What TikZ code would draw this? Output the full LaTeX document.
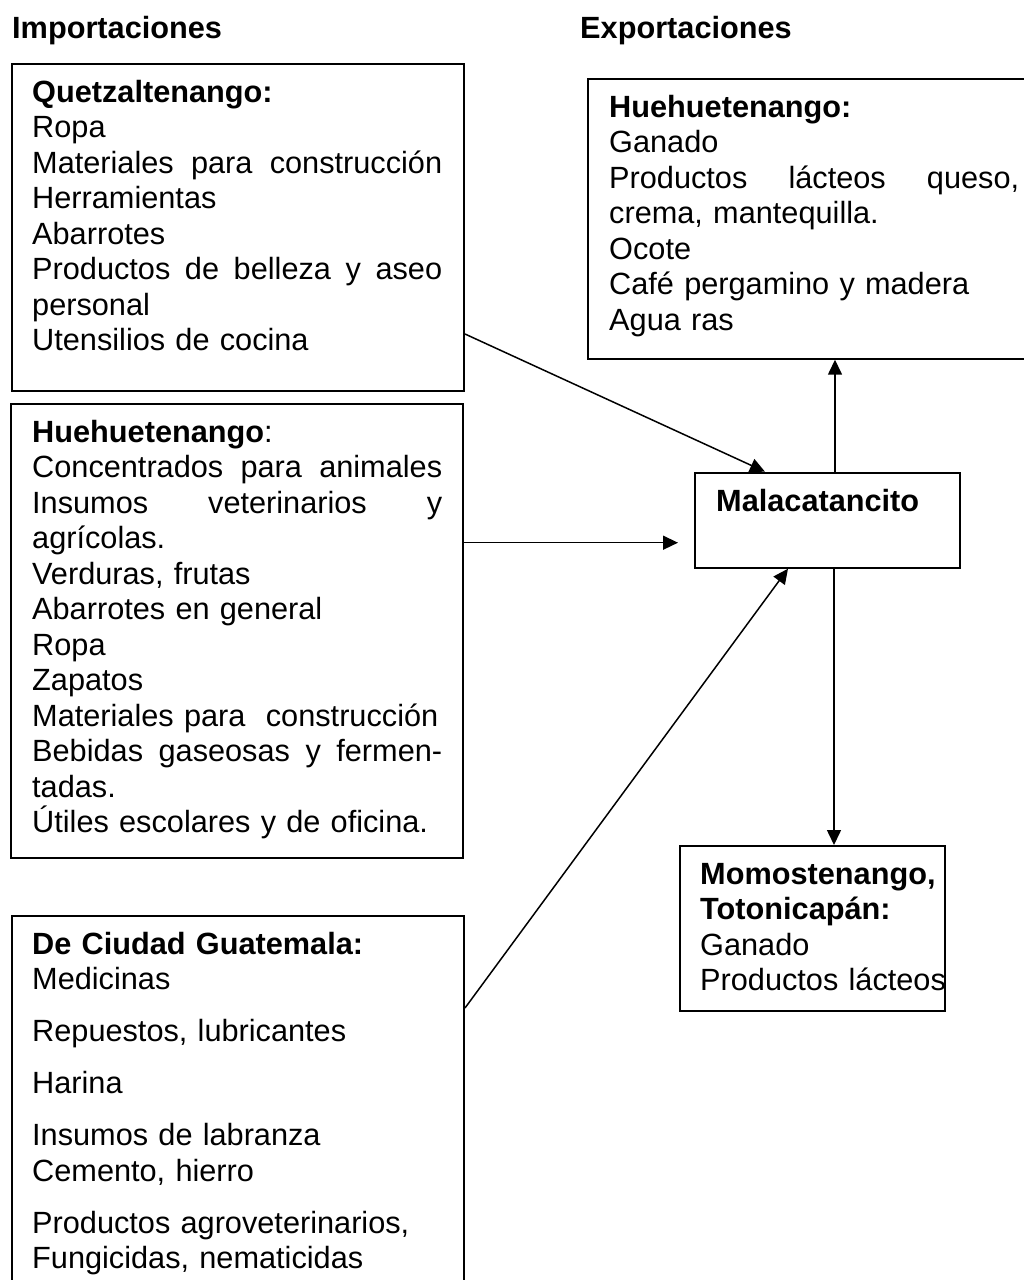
\documentclass[tikz,border=0pt]{standalone}
\usepackage{fontspec}
\setmainfont{Liberation Sans}
\usetikzlibrary{arrows.meta}
\newcommand{\jline}[1]{\makebox[\hsize][l]{#1}}

\begin{document}
\begin{tikzpicture}[x=1pt,y=-1pt,
  box/.style={draw,line width=2pt,anchor=north west,inner sep=0pt},
  txt/.style={anchor=base west,inner sep=0pt,text width=410pt,align=left,font=\fontsize{30.7}{35.5}\selectfont},
  lbl/.style={anchor=base west,inner sep=0pt,font=\fontsize{30.7}{35.5}\selectfont\bfseries},
  arr/.style={line width=1.5pt,-{Triangle[length=15pt,width=14pt]}}]

\useasboundingbox (0,0) rectangle (1024,1280);
\clip (0,0) rectangle (1024,1280);

\node[lbl] (imp) at (12,38) {Importaciones};
\node[lbl] (exp) at (580,38) {Exportaciones};

% importaciones
\node[box,minimum width=452pt,minimum height=327pt] (qz) at (11,63) {};
\node[txt] (qzt) at (32,102) {\textbf{Quetzaltenango:}\\ Ropa\\ \jline{Materiales\hfill para\hfill construcción}\\ Herramientas\\ Abarrotes\\ \jline{Productos\hfill de\hfill belleza\hfill y\hfill aseo}\\ personal\\ Utensilios de cocina};

\node[box,minimum width=452pt,minimum height=454pt] (hh) at (10,403) {};
\node[txt] (hht) at (32,442) {\textbf{Huehuetenango}:\\ \jline{Concentrados\hfill para\hfill animales}\\ \jline{Insumos\hfill veterinarios\hfill y}\\ agrícolas.\\ Verduras, frutas\\ Abarrotes en general\\ Ropa\\ Zapatos\\ Materiales para~~construcción\\ \jline{Bebidas\hfill gaseosas\hfill y\hfill fermen-}\\ tadas.\\ Útiles escolares y de oficina.};

\node[box,minimum width=452pt,minimum height=400pt] (gt) at (11,915) {};
\node[txt] (gtt) at (32,954) {\textbf{De Ciudad Guatemala:}\\ Medicinas\\[16.5pt] Repuestos, lubricantes\\[16.5pt] Harina\\[16.5pt] Insumos de labranza\\ Cemento, hierro\\[16.5pt] Productos agroveterinarios,\\ Fungicidas, nematicidas};

% centro
\node[box,minimum width=265pt,minimum height=95pt] (mal) at (694,471.7) {};
\node[lbl] (malt) at (716,511.7) {Malacatancito};

% exportaciones
\node[box,minimum width=452pt,minimum height=280pt] (ex) at (587,77.7) {};
\node[txt] (ext) at (609,117) {\textbf{Huehuetenango:}\\ Ganado\\ \jline{Productos\hfill lácteos\hfill queso,}\\ crema, mantequilla.\\ Ocote\\ Café pergamino y madera\\ Agua ras};

\node[box,minimum width=265pt,minimum height=165pt] (mo) at (679,845) {};
\node[txt,text width=260pt] (mot) at (700,884) {\textbf{Momostenango,}\\ \textbf{Totonicapán:}\\ Ganado\\ Productos lácteos};

\coordinate (mtop) at ([xshift=141pt]mal.north west);
\coordinate (mbot) at ([xshift=140pt]mal.south west);

\draw[arr] ([yshift=58pt]qz.south east) -- ([xshift=71pt]mal.north west);
\draw[arr] ([yshift=-139.7pt]hh.north east) -- ([xshift=-16pt,yshift=-22.5pt]mal.west);
\draw[arr] ([yshift=-93pt]gt.north east) -- ([xshift=94pt]mal.south west);
\draw[arr] (mtop) -- (mtop |- ex.south);
\draw[arr] (mbot) -- (mbot |- mo.north);

\end{tikzpicture}
\end{document}
